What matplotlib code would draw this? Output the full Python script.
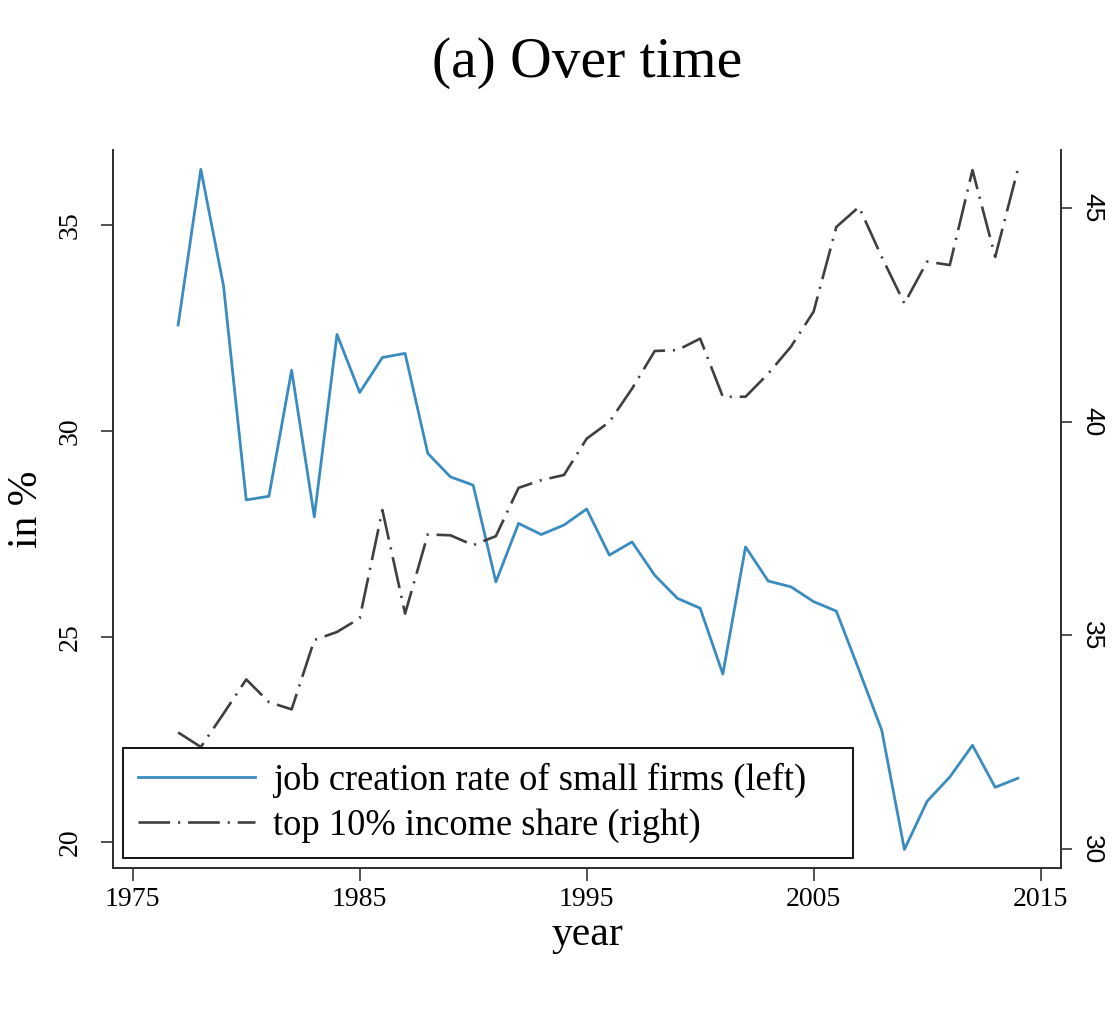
import matplotlib
matplotlib.use("Agg")
import matplotlib.pyplot as plt

# dados
anos = list(range(1977, 2015))

# taxa de criacao de empregos de pequenas empresas (eixo esquerdo)
criacao_empregos = [
    32.57, 36.35, 33.52, 28.32, 28.41, 31.47, 27.91, 32.34, 30.93, 31.78,
    31.88, 29.45, 28.88, 28.68, 26.33, 27.75, 27.48, 27.71, 28.10, 26.98,
    27.30, 26.49, 25.93, 25.69, 24.09, 27.18, 26.35, 26.21, 25.85, 25.62,
    24.19, 22.73, 19.83, 21.00, 21.59, 22.36, 21.34, 21.56,
]

# participacao dos 10% mais ricos na renda (eixo direito)
top10_renda = [
    32.73, 32.39, 33.17, 33.97, 33.44, 33.27, 34.89, 35.08, 35.40, 37.93,
    35.51, 37.36, 37.34, 37.11, 37.32, 38.45, 38.63, 38.75, 39.60, 39.99,
    40.77, 41.65, 41.67, 41.94, 40.58, 40.58, 41.12, 41.75, 42.57, 44.55,
    45.02, 43.85, 42.76, 43.74, 43.66, 45.88, 43.85, 45.90,
]

ticks_x = [1975, 1985, 1995, 2005, 2015]
ticks_esq = [20, 25, 30, 35]
ticks_dir = [30, 35, 40, 45]

serif = "Liberation Serif"
sans = "Liberation Sans"
cor_spine = "#333333"

fig = plt.figure(figsize=(11.12, 10.18), dpi=100)
ax = fig.add_axes([113 / 1112, 1 - 868 / 1018, (1061 - 113) / 1112, (868 - 150) / 1018])
ax2 = ax.twinx()

l1, = ax.plot(anos, criacao_empregos, color="#3a8cc0", lw=2.0,
              label="job creation rate of small firms (left)")
l2, = ax2.plot(anos, top10_renda, color="#3f3f3f", lw=1.9,
               dashes=(12, 3, 0.8, 3),
               label="top 10% income share (right)")

ax.set_xlim(1974.13, 2015.9)
ax.set_ylim(19.38, 36.82)
ax2.set_ylim(29.56, 46.35)

ax.set_xticks(ticks_x)
ax.set_yticks(ticks_esq)
ax2.set_yticks(ticks_dir)

for a in (ax, ax2):
    a.spines["top"].set_visible(False)
    for s in ("left", "right", "bottom"):
        a.spines[s].set_color(cor_spine)
        a.spines[s].set_linewidth(1.4)

ax.tick_params(axis="x", length=9, width=1.2, color=cor_spine, pad=5)
ax.tick_params(axis="y", length=9, width=1.2, color=cor_spine, pad=13)
ax2.tick_params(axis="y", length=8, width=1.2, color=cor_spine, pad=6)

for t in ax.get_xticklabels():
    t.set_fontfamily(serif)
    t.set_fontsize(20)
for t in ax.get_yticklabels():
    t.set_fontfamily(serif)
    t.set_fontsize(20)
    t.set_rotation(90)
    t.set_va("center")
for t in ax2.get_yticklabels():
    t.set_fontfamily(sans)
    t.set_fontsize(19)
    t.set_rotation(270)
    t.set_va("center")

ax.set_xlabel("year", fontfamily=serif, fontsize=30, labelpad=2)
ax.set_ylabel("in %", fontfamily=serif, fontsize=30, labelpad=8)

fig.text(587 / 1112, 1 - 77 / 1018, "(a) Over time", fontfamily=serif,
         fontsize=41.5, ha="center", va="baseline")

leg = ax2.legend(handles=[l1, l2], loc="lower left",
                 bbox_to_anchor=(123 / 1112, 1 - 858 / 1018, (853 - 123) / 1112, 0.05),
                 bbox_transform=fig.transFigure, mode="expand", borderaxespad=0,
                 prop={"family": serif, "size": 26.3}, handlelength=3.2,
                 handletextpad=0.5, borderpad=0.4, labelspacing=0.3,
                 fancybox=False, framealpha=1, edgecolor="black")
leg.get_frame().set_linewidth(1.3)

fig.savefig("out.png", dpi=100)
